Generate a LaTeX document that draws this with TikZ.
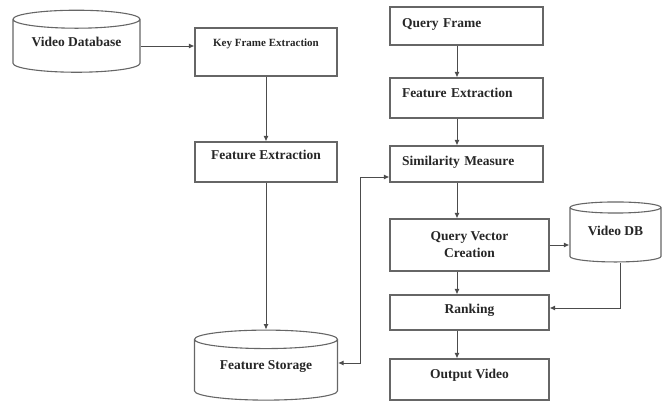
\documentclass[tikz,border=0pt]{standalone}
\usepackage{fontspec}
\setmainfont{Liberation Serif}
\usetikzlibrary{positioning,shapes.geometric,arrows.meta}
\tikzset{>={Latex[length=5.5pt,width=5pt]}}

\begin{document}
\begin{tikzpicture}[x=1pt,y=-1pt,
  every node/.style={font=\fontsize{13.5}{17}\selectfont\bfseries,text=black!85},
  blk/.style={draw=black!60,line width=1.1pt,inner sep=0pt},
  qblk/.style={blk,text width=129pt,inner xsep=12pt,align=left},
  wblk/.style={blk,minimum width=159pt},
  dbase/.style={cylinder,shape border rotate=90,aspect=0.2,draw=black!60,line width=1.1pt,inner sep=0pt},
  lift/.style={text height=9pt,text depth=#1},
  conn/.style={draw=black!70,line width=1pt,->}]
\useasboundingbox (0,0) rectangle (662,407);

% left column: key frames into the store
\node[dbase,minimum width=127pt,minimum height=62pt,lift=8pt] (vdb) at (76.5,46) {Video Database};
\node[blk,minimum width=142pt,minimum height=48pt,lift=20pt,font=\fontsize{11}{13}\selectfont\bfseries] (kfe) at (266,52) {Key Frame Extraction};
\node[blk,minimum width=142pt,minimum height=40pt,lift=14pt] (fel) at (266,162) {Feature Extraction};
\node[dbase,minimum width=143pt,minimum height=70pt,lift=10pt] (fs) at (266,370) {Feature Storage};

% right column: the query side
\node[qblk,minimum height=38pt,lift=6pt] (qf) at (466.5,26) {Query Frame};
\node[qblk,minimum height=40pt,lift=10pt] (fer) at (466.5,98) {Feature Extraction};
\node[qblk,minimum height=36pt,lift=6pt] (sim) at (466.5,164) {Similarity Measure};
\node[wblk,minimum height=52pt,align=center] (qvc) at (469.5,245) {Query Vector\\Creation};
\node[wblk,minimum height=35pt,lift=7pt] (rank) at (469.5,312.5) {Ranking};
\node[wblk,minimum height=41pt,lift=11pt] (out) at (469.5,379.5) {Output Video};
\node[dbase,minimum width=91pt,minimum height=60pt,lift=8pt] (vdb2) at (615.5,235) {Video DB};

\coordinate (spine) at (457,0);

\draw[conn] (vdb.east) -- (vdb.east -| kfe.west);
\draw[conn] (kfe) -- (fel);
\draw[conn] (fel) -- (fs);
\draw[conn] (qf.south -| spine) -- (fer.north -| spine);
\draw[conn] (fer.south -| spine) -- (sim.north -| spine);
\draw[conn] (sim.south -| spine) -- (qvc.north -| spine);
\draw[conn] (qvc.south -| spine) -- (rank.north -| spine);
\draw[conn] (rank.south -| spine) -- (out.north -| spine);
\draw[conn] (qvc.east) -- (qvc.east -| vdb2.west);
\draw[conn] ([xshift=5pt]vdb2.south) |- ([yshift=4.5pt]rank.east);
\draw[conn,<->] ([yshift=7pt]fs.east) -- ++(22,0) |- ([yshift=-13pt]sim.west);
\end{tikzpicture}
\end{document}
